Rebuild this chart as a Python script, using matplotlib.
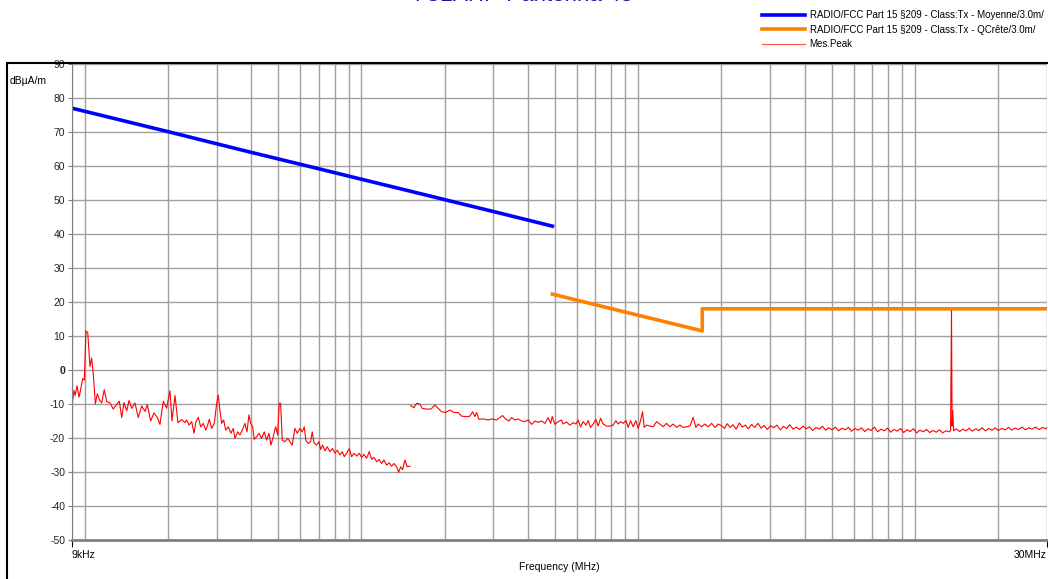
import numpy as np
import matplotlib
matplotlib.use("Agg")
import matplotlib.pyplot as plt
from matplotlib.ticker import LogLocator, NullFormatter, FixedLocator
from matplotlib.patches import Rectangle

plt.rcParams['font.family'] = ['Liberation Sans', 'DejaVu Sans']
plt.rcParams['axes.unicode_minus'] = False

# limit lines (kHz, dBuA/m)
avg_f = [9, 20, 40, 70, 100, 150, 200, 300, 490]
avg_l = [77.0, 70.1, 64.0, 59.2, 56.1, 52.6, 50.1, 46.6, 42.3]
qp_f = [490, 700, 1000, 1400, 1705, 1705, 30000]
qp_l = [22.3, 19.2, 16.1, 13.2, 11.5, 18.0, 18.0]

# measured peak, band 9k-150k (kHz)
pk1_f = [9.0, 9.15, 9.25, 9.38, 9.54, 9.68, 9.84, 9.97, 10.11, 10.26, 10.45, 10.6,
         10.75, 10.93, 11.11, 11.3, 11.52, 11.77, 12.01, 12.35, 12.69, 13.05, 13.34,
         13.61, 13.87, 14.19, 14.46, 14.79, 15.2, 15.62, 16.07, 16.52, 16.84, 17.32,
         17.8, 18.3, 18.71, 19.23, 19.78, 20.34, 20.68, 21.2, 21.73, 22.41, 23.04,
         23.37, 23.82, 24.36, 24.83, 25.25, 25.73, 26.25, 26.83, 27.37, 27.83, 28.2,
         28.77, 29.4, 29.99, 30.39, 30.75, 31.26, 31.79, 32.32, 33.03, 33.78, 34.43,
         34.92, 35.71, 36.4, 37.11, 37.95, 38.59, 39.23, 39.79, 40.46, 41.0, 41.83,
         42.64, 43.6, 44.56, 45.45, 46.33, 47.11, 48.02, 48.99, 49.81, 50.47, 51.07,
         51.75, 52.92, 54.13, 55.17, 56.24, 57.52, 58.63, 59.97, 61.13, 62.15, 63.03,
         64.25, 65.54, 66.42, 67.37, 68.9, 70.23, 71.23, 72.42, 73.82, 75.25, 76.96,
         78.71, 80.23, 81.78, 83.64, 85.26, 86.69, 88.44, 90.37, 92.19, 93.97, 96.1,
         98.21, 100.2, 102.1, 104.4, 106.7, 108.9, 111.0, 113.5, 116.0, 118.3, 120.6,
         123.3, 126.0, 128.6, 131.1, 134.0, 136.3, 138.6, 140.9, 143.6, 146.4, 149.7]
pk1_l = [-10.3, -6.0, -7.5, -4.6, -8.0, -5.6, -2.5, -3.0, 11.5, 11.0, 1.0, 3.5,
         -1.5, -10.0, -7.0, -8.7, -9.7, -5.8, -9.3, -9.7, -11.5, -10.1, -9.2,
         -14.0, -9.6, -12.0, -9.0, -11.3, -9.7, -14.0, -10.6, -12.2, -10.2, -15.0,
         -12.6, -14.0, -16.0, -9.2, -11.2, -6.1, -15.0, -7.5, -15.5, -14.6, -15.5,
         -14.7, -16.2, -15.2, -18.6, -15.2, -13.9, -16.7, -15.7, -17.7, -16.2, -14.5,
         -17.2, -15.7, -9.8, -7.4, -11.3, -15.7, -14.7, -17.7, -16.7, -18.6, -17.2,
         -20.1, -18.2, -19.1, -17.7, -15.7, -18.2, -13.2, -15.7, -16.7, -20.4, -19.6,
         -18.6, -20.1, -18.2, -20.6, -18.6, -22.1, -19.6, -16.7, -19.1, -9.8, -9.8,
         -20.6, -21.1, -20.1, -21.1, -22.1, -17.2, -18.6, -17.2, -18.2, -16.7, -20.8,
         -21.6, -21.1, -18.2, -21.4, -22.1, -21.1, -23.4, -22.1, -23.8, -22.6, -24.0,
         -23.1, -24.5, -23.6, -25.0, -24.0, -25.5, -24.5, -23.1, -25.5, -24.5, -25.3,
         -24.5, -25.7, -24.8, -26.0, -24.0, -26.3, -25.7, -27.0, -26.3, -27.5, -26.5,
         -28.0, -27.3, -28.3, -27.5, -28.5, -30.1, -28.5, -29.3, -26.5, -28.5, -28.3]

# measured peak, band 150k-30M (kHz)
pk2_f = [150.5, 154.8, 158.3, 162.7, 165.8, 172.0, 178.3, 184.3, 189.5, 194.9, 201.5,
         208.8, 216.4, 223.8, 230.2, 239.9, 246.6, 252.2, 257.1, 260.7, 265.8, 275.5,
         287.2, 296.9, 308.0, 316.5, 323.7, 331.9, 341.1, 348.8, 358.5, 368.5, 379.1,
         389.6, 400.5, 412.0, 423.5, 435.3, 447.8, 460.2, 473.1, 482.6, 489.1, 500.1,
         514.1, 528.8, 535.9, 551.1, 566.4, 582.2, 595.4, 607.0, 619.2, 632.8, 647.1,
         659.6, 672.9, 687.7, 703.4, 716.9, 731.4, 747.4, 768.9, 790.2, 812.3, 830.7,
         846.8, 863.8, 882.7, 902.8, 920.3, 938.8, 959.4, 981.3, 1000.2, 1020.3, 1037.4,
         1051.4, 1072.6, 1102.5, 1133.2, 1165.7, 1198.1, 1231.5, 1266.8, 1302.0, 1338.3,
         1376.7, 1415.0, 1454.5, 1496.3, 1538.0, 1580.8, 1616.6, 1648.0, 1695.3, 1742.4,
         1791, 1842, 1893, 1946,
         2000, 2050, 2100, 2150, 2200, 2260, 2320, 2380, 2440, 2500, 2570, 2640, 2710,
         2780, 2850, 2930, 3010, 3090, 3170, 3260, 3350, 3440, 3530, 3630, 3730, 3830,
         3940, 4050, 4160, 4270, 4390, 4510, 4630, 4760, 4890, 5020, 5160, 5300, 5450,
         5600, 5750, 5910, 6070, 6240, 6410, 6590, 6770, 6950, 7140, 7340, 7540, 7750,
         7960, 8180, 8400, 8630, 8870, 9110, 9360, 9620, 9880, 10150, 10430, 10720,
         11010, 11310, 11620, 11940, 12270, 12600, 12950, 13300, 13450, 13560, 13620,
         13700, 13800, 14100, 14500, 14900, 15300, 15700, 16100, 16600, 17000, 17500,
         18000, 18500, 19000, 19500, 20000, 20600, 21200, 21800, 22400, 23000, 23700,
         24400, 25100, 25800, 26500, 27300, 28100, 28900, 29700, 30000]
pk2_l = [-10.5, -11.1, -9.8, -10.0, -11.3, -11.5, -11.5, -10.3, -11.3, -12.3, -12.5,
         -11.8, -12.5, -12.5, -13.6, -13.7, -13.6, -12.3, -13.7, -12.5, -14.5, -14.4,
         -14.7, -14.4, -14.7, -14.0, -13.4, -14.4, -15.0, -14.0, -14.7, -14.4, -15.0,
         -15.2, -14.7, -16.0, -15.0, -15.4, -15.0, -15.7, -14.0, -15.7, -13.7, -16.0,
         -15.2, -14.7, -15.9, -15.3, -16.2, -15.5, -15.9, -14.7, -16.7, -15.2, -16.2,
         -14.9, -16.9, -15.9, -14.5, -16.5, -14.2, -15.9, -16.5, -16.5, -16.2, -14.9,
         -15.9, -15.2, -15.7, -14.9, -16.9, -14.9, -16.7, -14.9, -17.2, -14.9, -12.3,
         -16.9, -16.2, -16.5, -16.7, -15.2, -15.9, -16.7, -15.7, -16.7, -15.9,
         -16.9, -16.2, -16.9, -16.7, -16.5, -13.9, -16.9, -15.9, -16.7, -15.9,
         -16.7, -15.7, -16.9, -15.9,
         -16.4, -17.2, -15.8, -16.9, -16.1, -17.4, -15.6, -16.8, -16.2, -17.3, -16.0, -16.9, -15.7,
         -17.1, -16.3, -17.5, -16.4, -17.0, -16.2, -17.6, -16.6, -17.2, -16.1, -17.4, -16.8, -17.5,
         -16.5, -17.3, -16.7, -17.8, -16.9, -17.4, -16.6, -17.7, -17.0, -17.6, -16.8, -17.9, -17.1,
         -17.6, -16.9, -18.0, -17.2, -17.7, -17.0, -18.1, -17.3, -17.8, -16.8, -18.2, -17.4, -17.9,
         -17.1, -18.3, -17.5, -18.0, -17.2, -18.4, -17.6, -18.1, -17.3, -18.5, -17.7, -18.2,
         -17.5, -18.4, -17.8, -18.3, -17.6, -18.5, -17.9, -18.2, -17.8, 17.5, -16.5,
         -12.0, -17.9, -17.3, -18.1, -17.4, -17.9, -17.1, -18.0, -17.3, -17.8, -17.0,
         -17.9, -17.2, -17.7, -17.0, -17.8, -17.2, -17.6, -16.9, -17.7, -17.1, -17.5,
         -16.8, -17.6, -17.0, -17.4, -16.8, -17.5, -16.9, -17.3, -17.0]

fig = plt.figure(figsize=(10.48, 5.79), dpi=100)
ax = fig.add_axes([0.0687, 0.0674, 0.9303, 0.8221])

hz = lambda v: np.array(v) * 1e3
ax.plot(hz(avg_f), avg_l, color='#0000ff', lw=2.6,
        label='RADIO/FCC Part 15 §209 - Class:Tx - Moyenne/3.0m/')
ax.plot(hz(qp_f), qp_l, color='#ff8000', lw=2.6,
        label='RADIO/FCC Part 15 §209 - Class:Tx - QCrête/3.0m/')
ax.plot(hz(pk1_f), pk1_l, color='#ff0000', lw=0.8, label='Mes.Peak')
ax.plot(hz(pk2_f), pk2_l, color='#ff0000', lw=0.8)

ax.set_xscale('log')
ax.set_xlim(9e3, 30e6)
ax.set_ylim(-50, 90)
ax.set_yticks(range(-50, 91, 10))
ax.xaxis.set_major_locator(FixedLocator([9e3, 30e6]))
ax.set_xticklabels(['9kHz', '30MHz'])
lbls = ax.get_xticklabels()
lbls[0].set_ha('left')
lbls[1].set_ha('right')
ax.xaxis.set_minor_locator(LogLocator(base=10, subs=range(1, 10), numticks=30))
ax.xaxis.set_minor_formatter(NullFormatter())
ax.tick_params(axis='x', which='minor', length=0)
ax.tick_params(axis='x', which='major', length=5, color='black', labelsize=7.5, pad=2)
ax.tick_params(axis='y', length=3, color='#808080', labelsize=7.5, labelcolor='#222222', pad=2)
for t in ax.get_yticklabels():
    if t.get_text() == '0':
        t.set_fontweight('bold')
ax.grid(True, which='both', axis='x', color='#a0a0a0', lw=1.0)
ax.grid(True, which='major', axis='y', color='#a0a0a0', lw=1.0)
ax.set_axisbelow(True)
for s in ['top', 'right']:
    ax.spines[s].set_visible(False)
ax.spines['left'].set_color('#808080')
ax.spines['bottom'].set_color('#808080')
ax.spines['bottom'].set_linewidth(2)
ax.set_xlabel('Frequency (MHz)', fontsize=7.5, labelpad=2)

fig.text(0.0095, 1 - 81 / 579, 'dBµA/m', fontsize=7.5, va='center', ha='left')
fig.patches.append(Rectangle((7 / 1048, -0.05), 1.2, 1 - 63 / 579 + 0.05,
                             transform=fig.transFigure, fill=False,
                             edgecolor='black', lw=1.5))
fig.text(0.498, 1 - 1 / 579, 'TC2AHP-Pantenna 48', fontsize=16, color='#1a1aa8',
         ha='center', va='baseline')

leg = fig.legend(loc='upper left', bbox_to_anchor=(758 / 1048, 1 - 6.5 / 579), frameon=False,
                 fontsize=7.0, handlelength=4.4, labelspacing=0.45, borderaxespad=0.0,
                 handletextpad=0.5)
leg.get_lines()[2].set_color('#ff5050')

fig.savefig('out.png', dpi=100)
